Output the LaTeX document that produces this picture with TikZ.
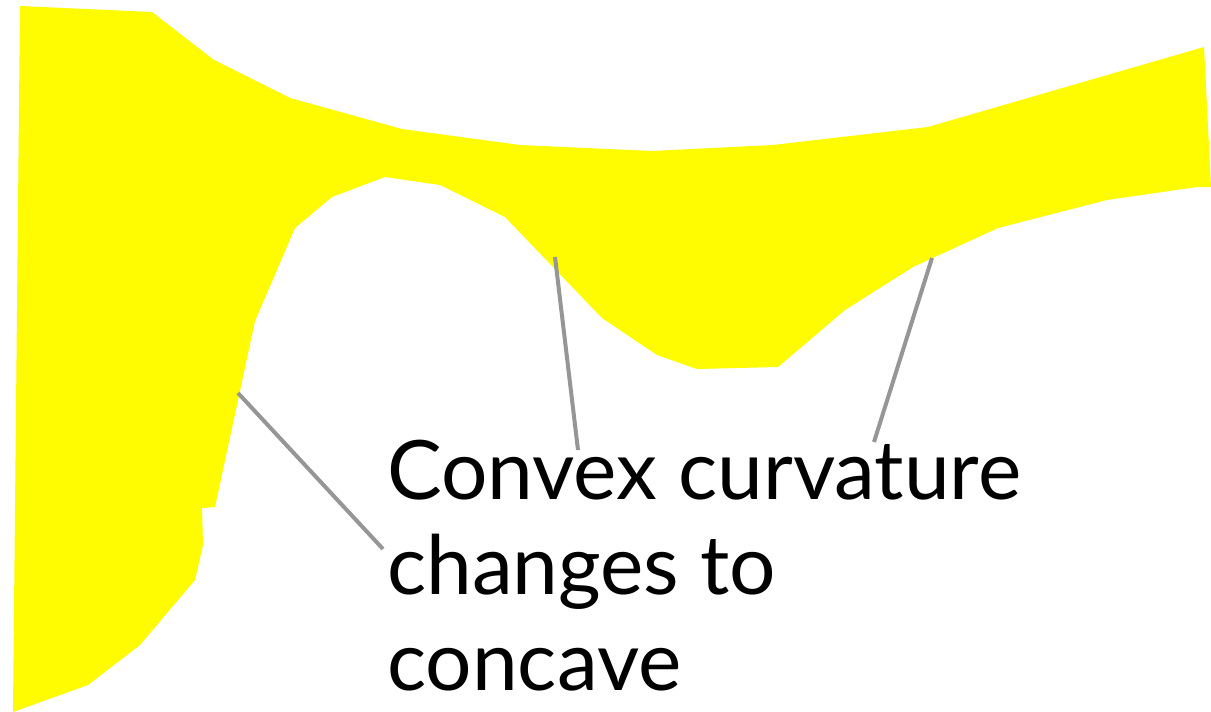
\documentclass[tikz,border=0pt]{standalone}
\usepackage{fontspec}
\setmainfont{Lato}
\definecolor{shapeyellow}{RGB}{255,251,0}
\definecolor{leadergray}{RGB}{150,150,150}
\begin{document}
\begin{tikzpicture}[
	x=1pt, y=-1pt,
	blob/.style={ fill=shapeyellow, draw=none },
	leader/.style={ leadergray, line width=4pt },
	caption/.style={ anchor=base west, inner sep=0pt, align=left, font=\fontsize{82}{95.5}\selectfont }
]
\useasboundingbox (0,0) rectangle (1211,712);

\path[blob] (20,6) -- (152,12) -- (214,60) -- (290,98) -- (402,129) -- (520,145) -- (652,151)
	-- (773,145) -- (928,127) -- (1204,47) -- (1211,187) -- (1197,187) -- (1107,200) -- (998,228)
	-- (913,267) -- (845,310) -- (778,367) -- (697,369) -- (657,355) -- (602,318) -- (505,217)
	-- (440,185) -- (385,177) -- (332,197) -- (295,228) -- (255,321) -- (215,507) -- (202,508)
	-- (203,545) -- (195,580) -- (140,645) -- (88,685) -- (13,712) -- cycle;

\coordinate (leftbend) at (238,393);
\coordinate (midbend) at (555,257);
\coordinate (rightbend) at (932,258);

% base anchor sits on the last line
\node[caption] at (387,690) (label) {Convex curvature\\changes to\\concave};

\coordinate (leftend) at (383,549);
\coordinate (midend) at (578,450);
\coordinate (rightend) at (874,442);

\draw[leader] (leftbend) to (leftend);
\draw[leader] (midbend) to (midend);
\draw[leader] (rightbend) to (rightend);

\end{tikzpicture}
\end{document}
